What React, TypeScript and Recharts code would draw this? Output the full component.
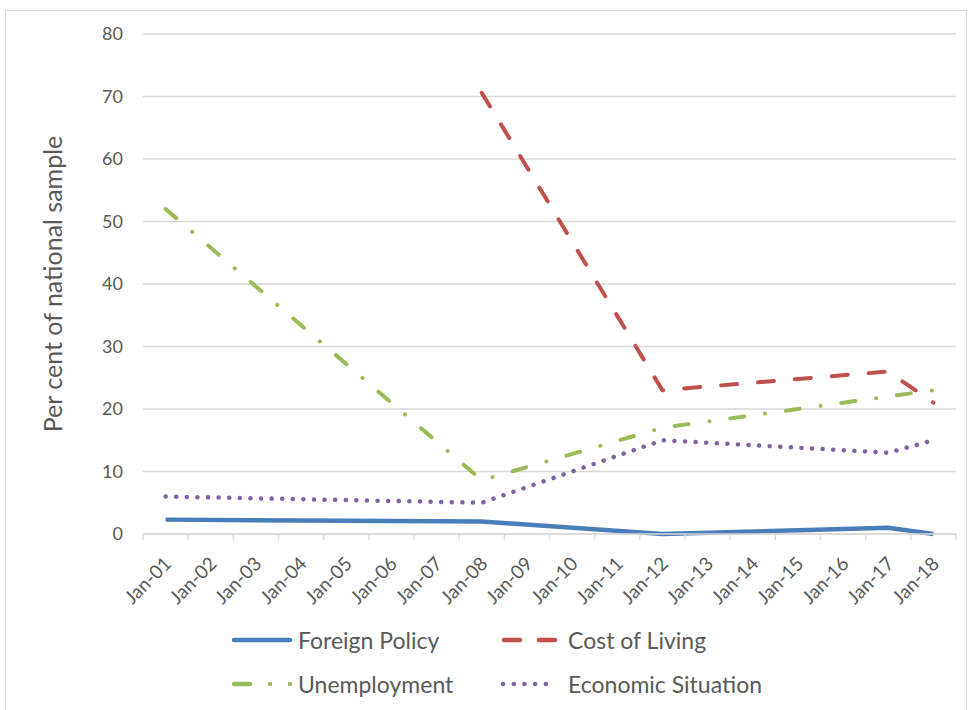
import { LineChart, Line, XAxis, YAxis, CartesianGrid, Legend, Label } from 'recharts';

const months = [
  'Jan-01', 'Jan-02', 'Jan-03', 'Jan-04', 'Jan-05', 'Jan-06', 'Jan-07', 'Jan-08', 'Jan-09',
  'Jan-10', 'Jan-11', 'Jan-12', 'Jan-13', 'Jan-14', 'Jan-15', 'Jan-16', 'Jan-17', 'Jan-18',
];

// survey readings only exist for a few months, the rest are gaps
const foreignPolicy = [2.3, null, null, null, null, null, null, 2, null, null, null, 0, null, null, null, null, 1, 0];
const costOfLiving = [null, null, null, null, null, null, null, 70.6, null, null, null, 23, null, null, null, null, 26, 21];
const unemployment = [52, null, null, null, null, null, null, 8.6, null, null, null, 17, null, null, null, null, 22, 23];
const economicSituation = [6, null, null, null, null, null, null, 5, null, null, null, 15, null, null, null, null, 13, 15];

const yTicks = [0, 10, 20, 30, 40, 50, 60, 70, 80];

const data = months.map((m, i) => ({
  month: m,
  foreign: foreignPolicy[i],
  cost: costOfLiving[i],
  unemp: unemployment[i],
  econ: economicSituation[i],
}));

const W = 974;
const H = 710;
const PLOT_LEFT = 143;
const PLOT_RIGHT = 956;
const BAND = (PLOT_RIGHT - PLOT_LEFT) / months.length;
const GREY = '#d9d9d9';
const TEXT = '#595959';
const FONT = 'Lato, "Open Sans", sans-serif';

const BLUE = '#4a7ebb';
const RED = '#c0504d';
const GREEN = '#9bbb59';
const PURPLE = '#8064a2';

function XTick(props: any) {
  const { x, y, payload, index } = props;
  const tx = x + 7;
  const ty = y + 31;
  return (
    <g>
      <line x1={x - BAND / 2} x2={x - BAND / 2} y1={y} y2={y + 6} stroke={GREY} strokeWidth={1.3} />
      {index === months.length - 1 && (
        <line x1={x + BAND / 2} x2={x + BAND / 2} y1={y} y2={y + 6} stroke={GREY} strokeWidth={1.3} />
      )}
      <text
        x={tx}
        y={ty}
        transform={`rotate(-45, ${tx}, ${ty})`}
        textAnchor="end"
        fill={TEXT}
        fontSize={19}
        fontFamily={FONT}
      >
        {payload.value}
      </text>
    </g>
  );
}

function LegendBox() {
  const txt = { position: 'absolute' as const, fontSize: 23, color: TEXT, fontFamily: FONT, lineHeight: '28px' };
  return (
    <div style={{ position: 'relative', width: W, height: 80 }}>
      <svg width={W} height={80} style={{ position: 'absolute', left: 0, top: 0 }}>
        <line x1={234} x2={290} y1={18} y2={18} stroke={BLUE} strokeWidth={4.5} strokeLinecap="round" />
        <line x1={504} x2={556} y1={18} y2={18} stroke={RED} strokeWidth={4.5} strokeLinecap="round" strokeDasharray="16 19" />
        <line x1={234} x2={250} y1={62} y2={62} stroke={GREEN} strokeWidth={4.5} strokeLinecap="round" />
        <circle cx={270} cy={62} r={2.2} fill={GREEN} />
        <circle cx={290} cy={62} r={2.2} fill={GREEN} />
        <line x1={503} x2={556} y1={62} y2={62} stroke={PURPLE} strokeWidth={4.5} strokeLinecap="round" strokeDasharray="0.1 10.6" />
      </svg>
      <span style={{ ...txt, left: 298, top: 4 }}>Foreign Policy</span>
      <span style={{ ...txt, left: 568, top: 4 }}>Cost of Living</span>
      <span style={{ ...txt, left: 298, top: 48 }}>Unemployment</span>
      <span style={{ ...txt, left: 568, top: 48 }}>Economic Situation</span>
    </div>
  );
}

export default function App() {
  return (
    <div style={{ position: 'absolute', left: 0, top: 0, width: W, height: H, background: '#fff' }}>
      <div
        style={{
          position: 'absolute',
          left: 5,
          top: 10,
          width: 962,
          height: 705,
          border: `1px solid ${GREY}`,
          boxSizing: 'border-box',
        }}
      />
      <LineChart width={W} height={H} data={data} margin={{ top: 34, right: W - PLOT_RIGHT, left: 0, bottom: 0 }}>
        <CartesianGrid vertical={false} stroke={GREY} strokeWidth={1.3} />
        <XAxis
          dataKey="month"
          scale="band"
          height={H - 534}
          interval={0}
          tickSize={0}
          tickMargin={0}
          tickLine={false}
          axisLine={{ stroke: GREY, strokeWidth: 1.3 }}
          tick={<XTick />}
        />
        <YAxis
          width={PLOT_LEFT}
          domain={[0, 80]}
          ticks={yTicks}
          interval={0}
          axisLine={false}
          tickLine={false}
          tickMargin={14}
          tick={{ fill: TEXT, fontSize: 18, fontFamily: FONT }}
        >
          <Label
            value="Per cent of national sample"
            angle={-90}
            position="insideLeft"
            offset={53}
            style={{ textAnchor: 'middle', fill: TEXT, fontSize: 25, fontFamily: FONT }}
          />
        </YAxis>
        <Legend
          verticalAlign="middle"
          align="center"
          content={<LegendBox />}
          wrapperStyle={{ top: 622, left: 0, width: W }}
        />
        <Line dataKey="foreign" name="Foreign Policy" stroke={BLUE} strokeWidth={4.5} dot={false} connectNulls isAnimationActive={false} />
        <Line dataKey="cost" name="Cost of Living" stroke={RED} strokeWidth={4} strokeLinecap="round" strokeDasharray="16 21" dot={false} connectNulls isAnimationActive={false} />
        <Line dataKey="unemp" name="Unemployment" stroke={GREEN} strokeWidth={4} strokeLinecap="round" strokeDasharray="14 21 0.1 21" dot={false} connectNulls isAnimationActive={false} />
        <Line dataKey="econ" name="Economic Situation" stroke={PURPLE} strokeWidth={4.5} strokeLinecap="round" strokeDasharray="0.1 10.5" dot={false} connectNulls isAnimationActive={false} />
      </LineChart>
    </div>
  );
}
